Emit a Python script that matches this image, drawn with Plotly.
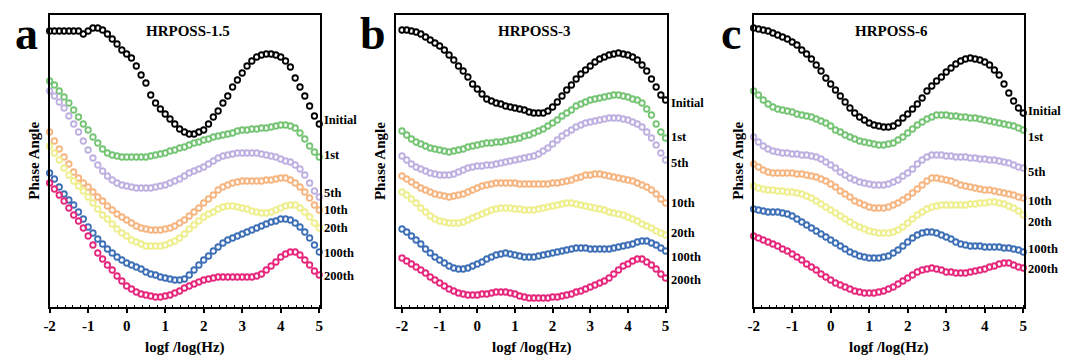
import plotly.graph_objects as go

W, H = 1066, 358

# ---------------- data (phase angle, arbitrary units; no y scale shown) ----------------
X_LOGF = [-2.0, -1.875, -1.75, -1.625, -1.5, -1.375, -1.25, -1.125,
          -1.0, -0.875, -0.75, -0.625, -0.5, -0.375, -0.25, -0.125,
          0.0, 0.125, 0.25, 0.375, 0.5, 0.625, 0.75, 0.875,
          1.0, 1.125, 1.25, 1.375, 1.5, 1.625, 1.75, 1.875,
          2.0, 2.125, 2.25, 2.375, 2.5, 2.625, 2.75, 2.875,
          3.0, 3.125, 3.25, 3.375, 3.5, 3.625, 3.75, 3.875,
          4.0, 4.125, 4.25, 4.375, 4.5, 4.625, 4.75, 4.875,
          5.0]

SERIES_NAMES = ["Initial", "1st", "5th", "10th", "20th", "100th", "200th"]
PANEL_TITLES = ["HRPOSS-1.5", "HRPOSS-3", "HRPOSS-6"]
PANEL_LETTERS = ["a", "b", "c"]
X_TICKS = [-2, -1, 0, 1, 2, 3, 4, 5]

# Panel a : HRPOSS-1.5
a_initial = [276, 276, 276, 276, 276, 276, 276, 273,
             276, 279, 279, 277, 273, 268, 263, 257,
             253, 249, 241, 232, 224, 212, 204, 198,
             193, 188, 183, 178, 175, 173, 173, 175,
             177, 183, 190, 196, 204, 211, 220, 227,
             234, 241, 246, 250, 252, 253, 253, 252,
             250, 246, 240, 229, 220, 211, 201, 191,
             183]
a_1st = [226, 222, 216, 210, 204, 197, 190, 183,
         177, 170, 164, 158, 154, 152, 151, 150,
         150, 150, 150, 150, 150, 151, 152, 153,
         154, 156, 157, 159, 160, 162, 164, 165,
         167, 168, 170, 171, 172, 173, 174, 176,
         177, 177, 178, 178, 179, 179, 180, 181,
         182, 182, 181, 179, 174, 168, 161, 155,
         150]
a_5th = [216, 211, 205, 199, 191, 183, 175, 166,
         157, 149, 142, 136, 131, 127, 124, 122,
         121, 120, 119, 119, 119, 119, 120, 121,
         122, 124, 126, 128, 131, 134, 136, 138,
         140, 143, 146, 149, 151, 152, 153, 154,
         154, 154, 154, 154, 153, 152, 151, 150,
         148, 146, 145, 142, 138, 132, 124, 116,
         110]
a_10th = [175, 166, 158, 150, 143, 135, 129, 124,
          120, 115, 110, 106, 101, 97, 93, 90,
          87, 84, 81, 79, 78, 77, 77, 77,
          78, 79, 81, 84, 87, 91, 95, 99,
          104, 108, 112, 117, 120, 122, 124, 125,
          126, 126, 126, 126, 126, 127, 127, 128,
          129, 129, 127, 124, 120, 115, 109, 102,
          97]
a_20th = [161, 154, 147, 139, 132, 126, 121, 116,
          110, 104, 98, 92, 88, 83, 78, 74,
          71, 67, 65, 63, 61, 61, 61, 61,
          62, 64, 66, 69, 73, 78, 82, 86,
          90, 93, 95, 98, 100, 101, 101, 100,
          99, 98, 96, 95, 94, 94, 95, 97,
          99, 101, 102, 102, 99, 95, 90, 84,
          79]
a_100th = [134, 128, 120, 113, 107, 102, 95, 88,
           80, 74, 68, 63, 58, 54, 50, 47,
           44, 42, 40, 38, 35, 33, 32, 30,
           29, 28, 27, 27, 28, 32, 37, 42,
           47, 51, 56, 60, 64, 67, 69, 71,
           73, 75, 77, 79, 81, 83, 85, 86,
           88, 88, 87, 84, 80, 75, 69, 62,
           55]
a_200th = [124, 118, 112, 106, 99, 92, 86, 79,
           71, 62, 54, 48, 42, 37, 31, 26,
           21, 18, 15, 13, 12, 11, 10, 10,
           11, 12, 14, 16, 19, 21, 23, 25,
           27, 28, 29, 30, 30, 30, 30, 30,
           30, 30, 30, 31, 33, 37, 41, 45,
           50, 53, 55, 55, 52, 47, 42, 36,
           32]

# Panel b : HRPOSS-3
b_initial = [277, 277, 276, 275, 273, 270, 267, 264,
             261, 257, 252, 247, 241, 236, 230, 223,
             218, 213, 208, 206, 204, 203, 201, 200,
             199, 198, 197, 195, 194, 194, 194, 196,
             200, 205, 211, 217, 222, 228, 233, 237,
             241, 245, 248, 250, 252, 253, 254, 253,
             252, 250, 247, 242, 236, 228, 220, 212,
             207]
b_1st = [176, 172, 168, 165, 163, 161, 159, 158,
         157, 156, 155, 156, 157, 158, 160, 161,
         162, 163, 164, 164, 165, 165, 166, 167,
         168, 169, 171, 172, 174, 176, 178, 181,
         184, 187, 191, 194, 197, 201, 203, 205,
         207, 208, 209, 210, 211, 212, 212, 211,
         210, 208, 207, 204, 198, 192, 183, 175,
         169]
b_5th = [151, 147, 143, 140, 138, 136, 134, 133,
         132, 132, 132, 133, 135, 137, 139, 140,
         141, 141, 142, 142, 143, 144, 145, 146,
         147, 148, 149, 150, 151, 153, 156, 159,
         163, 167, 171, 174, 177, 180, 182, 184,
         185, 186, 187, 188, 189, 189, 189, 188,
         187, 185, 183, 180, 175, 169, 162, 154,
         147]
b_10th = [131, 128, 125, 122, 119, 117, 115, 113,
          112, 111, 110, 111, 112, 113, 115, 117,
          119, 121, 122, 123, 124, 124, 124, 124,
          124, 123, 123, 123, 123, 123, 123, 123,
          124, 124, 125, 126, 127, 129, 130, 132,
          132, 133, 133, 132, 131, 130, 129, 128,
          127, 126, 124, 122, 120, 117, 113, 108,
          104]
b_20th = [115, 112, 108, 104, 99, 95, 91, 88,
          86, 85, 84, 84, 84, 85, 87, 89,
          91, 93, 95, 97, 98, 99, 99, 99,
          98, 98, 97, 97, 97, 98, 99, 100,
          101, 102, 103, 104, 104, 103, 102, 101,
          100, 99, 98, 97, 95, 94, 93, 92,
          90, 88, 86, 83, 81, 79, 76, 74,
          72]
b_100th = [78, 75, 71, 67, 63, 58, 54, 50,
           47, 44, 41, 39, 38, 38, 39, 41,
           43, 45, 48, 50, 52, 53, 54, 53,
           52, 51, 50, 50, 50, 51, 52, 53,
           54, 55, 56, 57, 58, 59, 59, 59,
           58, 58, 58, 58, 58, 59, 60, 61,
           62, 63, 65, 66, 66, 64, 62, 59,
           56]
b_200th = [49, 46, 43, 40, 37, 34, 30, 27,
           24, 21, 18, 16, 14, 13, 12, 12,
           12, 13, 13, 14, 15, 15, 15, 14,
           13, 11, 10, 9, 9, 9, 9, 9,
           10, 10, 11, 12, 13, 15, 16, 18,
           20, 22, 24, 26, 29, 33, 37, 41,
           43, 46, 48, 48, 45, 42, 38, 33,
           29]

# Panel c : HRPOSS-6
c_initial = [279, 278, 277, 276, 274, 272, 270, 268,
             265, 262, 257, 253, 248, 242, 236, 229,
             223, 217, 211, 205, 199, 194, 190, 187,
             184, 182, 181, 180, 180, 181, 184, 189,
             193, 198, 203, 209, 216, 221, 226, 230,
             235, 239, 243, 246, 248, 249, 248, 247,
             245, 242, 237, 232, 223, 214, 206, 199,
             194]
c_1st = [216, 212, 207, 203, 200, 198, 197, 196,
         195, 193, 192, 191, 190, 188, 186, 184,
         181, 177, 175, 172, 170, 168, 166, 165,
         164, 163, 162, 162, 163, 164, 167, 170,
         174, 178, 182, 185, 188, 190, 192, 192,
         192, 191, 191, 190, 190, 189, 189, 188,
         187, 186, 185, 184, 183, 182, 181, 179,
         177]
c_5th = [170, 165, 161, 158, 156, 155, 154, 154,
         153, 153, 152, 152, 151, 150, 148, 145,
         142, 139, 135, 132, 129, 127, 125, 124,
         123, 122, 122, 122, 123, 125, 127, 131,
         134, 138, 143, 147, 150, 152, 152, 152,
         151, 151, 150, 150, 150, 149, 149, 148,
         148, 147, 147, 146, 145, 144, 142, 140,
         139]
c_10th = [143, 140, 137, 135, 134, 134, 134, 134,
          134, 133, 133, 132, 131, 130, 128, 126,
          123, 120, 116, 113, 110, 106, 104, 102,
          100, 99, 99, 99, 100, 102, 104, 107,
          110, 114, 118, 122, 126, 129, 129, 128,
          127, 126, 124, 122, 121, 120, 119, 118,
          117, 117, 116, 115, 114, 113, 112, 110,
          109]
c_20th = [121, 119, 118, 117, 117, 116, 116, 115,
          115, 114, 113, 111, 109, 106, 103, 100,
          97, 94, 91, 88, 85, 82, 80, 78,
          76, 75, 74, 74, 74, 75, 77, 80,
          84, 88, 92, 95, 98, 100, 101, 102,
          102, 102, 102, 102, 102, 103, 103, 104,
          104, 105, 105, 104, 103, 101, 99, 96,
          92]
c_100th = [98, 97, 96, 95, 95, 95, 94, 93,
           91, 88, 85, 82, 79, 76, 73, 70,
           67, 64, 61, 58, 55, 53, 51, 50,
           49, 49, 49, 50, 51, 54, 57, 61,
           65, 69, 72, 74, 75, 75, 74, 72,
           70, 68, 65, 63, 62, 61, 61, 61,
           60, 60, 60, 60, 59, 59, 58, 57,
           55]
c_200th = [71, 69, 67, 65, 63, 61, 58, 56,
           53, 50, 47, 43, 40, 37, 33, 30,
           27, 24, 22, 20, 18, 16, 15, 14,
           14, 14, 15, 16, 18, 20, 23, 26,
           29, 32, 35, 37, 38, 39, 38, 37,
           35, 35, 34, 34, 34, 35, 36, 37,
           38, 40, 41, 43, 44, 44, 42, 40,
           39]

PANELS = [
    [a_initial, a_1st, a_5th, a_10th, a_20th, a_100th, a_200th],
    [b_initial, b_1st, b_5th, b_10th, b_20th, b_100th, b_200th],
    [c_initial, c_1st, c_5th, c_10th, c_20th, c_100th, c_200th],
]
for p in PANELS:
    for s in p:
        assert len(s) == len(X_LOGF), len(s)

# label heights (in the same arbitrary y units) for the right-hand curve labels
LABEL_Y = [
    [187, 152, 114, 97, 79, 54, 31],
    [204, 170, 144, 104, 74, 50, 27],
    [196, 170, 135, 106, 85, 58, 38],
]

# ---------------- style ----------------
COLORS = ["#000000", "#74c474", "#bdb0e0", "#f6b47f", "#eeee8c", "#3d6fb6", "#e6267c"]
SERIF = "Liberation Serif"

# pixel geometry of each panel (left, right) and shared top/bottom
PANEL_PX = [(44, 316.7), (393.3, 666.7), (754, 1026.7)]
TOP_PX, BOT_PX = 15, 307
X_RANGES = [[-2, 5.02], [-2.16, 5.04], [-2, 5.02]]
Y_RANGE = [0, 292]


def px(x):
    return x / W


def py(y):
    return 1 - y / H


fig = go.Figure()

for i, series in enumerate(PANELS):
    xa = "x" if i == 0 else f"x{i+1}"
    ya = "y" if i == 0 else f"y{i+1}"
    for name, vals, col in zip(SERIES_NAMES, series, COLORS):
        fig.add_trace(go.Scatter(
            x=X_LOGF, y=vals, mode="markers", name=name,
            xaxis=xa, yaxis=ya, cliponaxis=False, showlegend=False,
            marker=dict(symbol="circle-open", size=5.5, color=col,
                        line=dict(width=1.8, color=col)),
        ))

layout = dict(
    width=W, height=H,
    margin=dict(l=0, r=0, t=0, b=0),
    paper_bgcolor="white", plot_bgcolor="white",
    showlegend=False,
)

annotations = []
for i in range(3):
    l, r = PANEL_PX[i]
    sx = "" if i == 0 else str(i + 1)
    layout[f"xaxis{sx}"] = dict(
        domain=[px(l), px(r)], range=X_RANGES[i], anchor=f"y{sx}",
        tickvals=X_TICKS, ticktext=[str(t) for t in X_TICKS],
        ticks="outside", ticklen=4, tickwidth=1.5, tickcolor="black",
        minor=dict(dtick=0.2, ticks="inside", ticklen=2.5, tickwidth=1, tickcolor="black"),
        showline=True, linecolor="black", linewidth=2, mirror=True,
        showgrid=False, zeroline=False,
        tickfont=dict(family=SERIF, size=15, color="black", weight="bold"),
    )
    layout[f"yaxis{sx}"] = dict(
        domain=[py(BOT_PX), py(TOP_PX)], range=Y_RANGE, anchor=f"x{sx}",
        showticklabels=False, ticks="",
        showline=True, linecolor="black", linewidth=2, mirror=True,
        showgrid=False, zeroline=False,
    )
    cx = (l + r) / 2
    # panel title
    annotations.append(dict(
        x=px(cx + 3), y=py(31), xref="paper", yref="paper", showarrow=False,
        text=PANEL_TITLES[i], xanchor="center", yanchor="middle",
        font=dict(family=SERIF, size=15, color="black", weight="bold"),
    ))
    # x axis title
    annotations.append(dict(
        x=px(cx), y=py(347), xref="paper", yref="paper", showarrow=False,
        text="logf /log(Hz)", xanchor="center", yanchor="middle",
        font=dict(family=SERIF, size=15, color="black", weight="bold"),
    ))
    # y axis title
    annotations.append(dict(
        x=px(l - 16), y=py(161), xref="paper", yref="paper", showarrow=False,
        text="Phase Angle", textangle=-90, xanchor="center", yanchor="middle",
        font=dict(family=SERIF, size=15, color="black", weight="bold"),
    ))
    # panel letter
    annotations.append(dict(
        x=px(l - 23), y=py(33), xref="paper", yref="paper", showarrow=False,
        text=PANEL_LETTERS[i], xanchor="center", yanchor="middle",
        font=dict(family=SERIF, size=46, color="black", weight="bold"),
    ))
    # curve labels
    for name, ly in zip(SERIES_NAMES, LABEL_Y[i]):
        annotations.append(dict(
            x=5, y=ly, xref=f"x{sx}", yref=f"y{sx}", showarrow=False,
            text=name, xanchor="left", yanchor="middle", xshift=3,
            font=dict(family=SERIF, size=12.5, color="black", weight="bold"),
        ))

layout["annotations"] = annotations
fig.update_layout(**layout)
fig.write_html(
    "out.html",
    config={"displayModeBar": False},
    post_script="document.body.style.margin='0px';document.body.style.overflow='hidden';",
)
